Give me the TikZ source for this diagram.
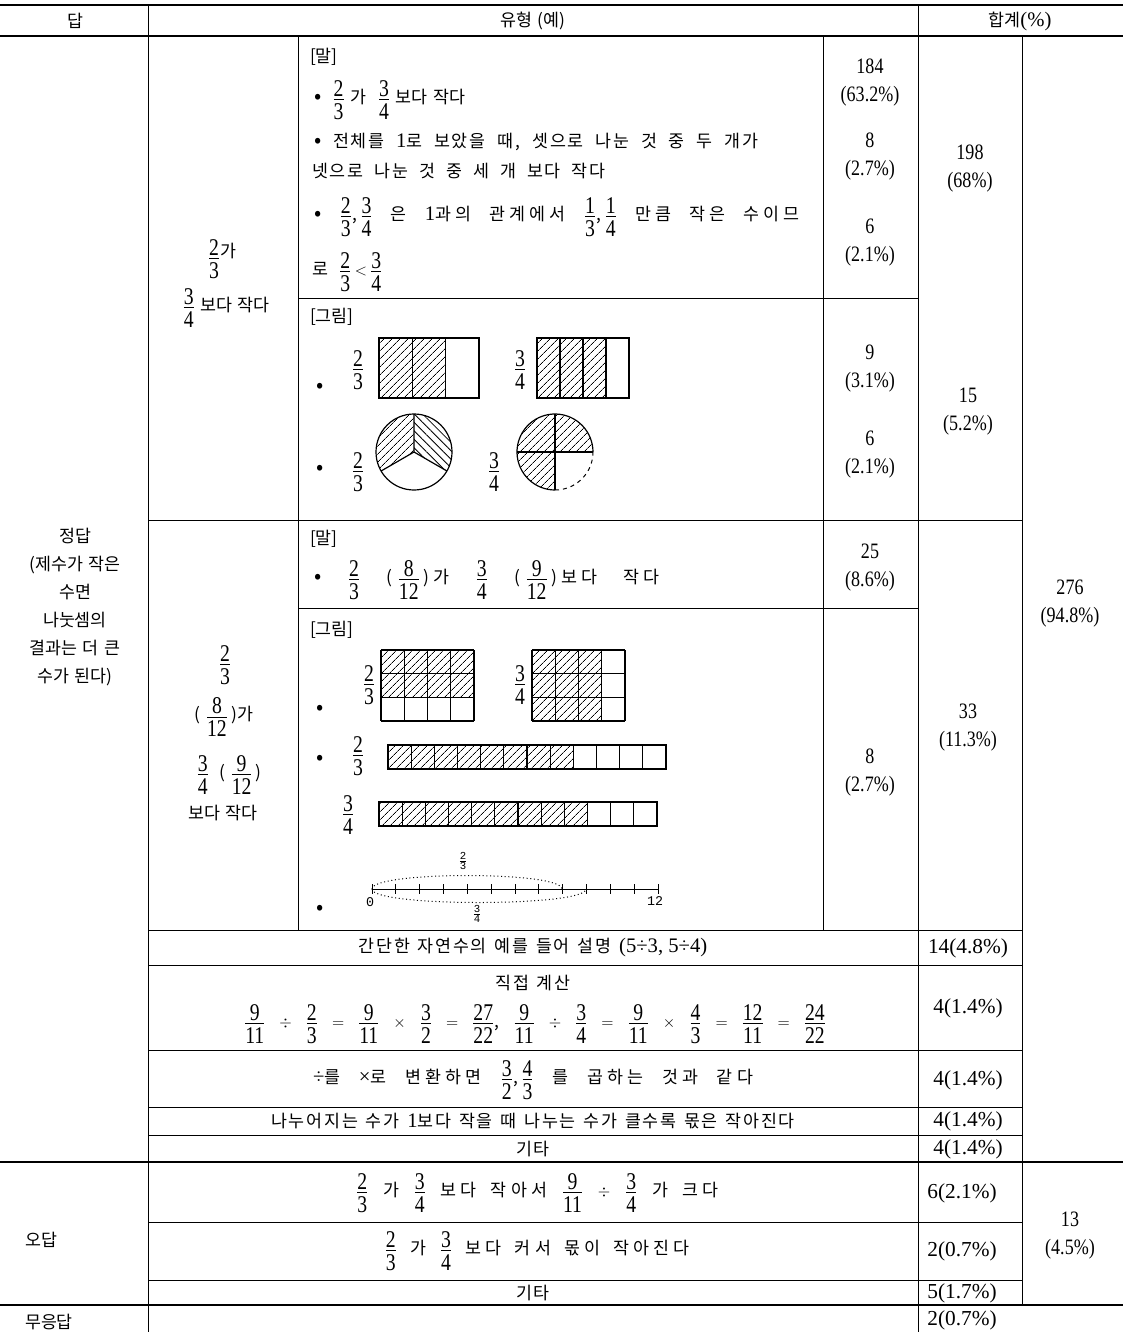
\documentclass[tikz,border=0pt]{standalone}
\usepackage{amsmath}
\usepackage{fontspec}
\setmainfont{Liberation Serif}
\newfontfamily\kr{Noto Sans CJK KR}[WordSpace=1.4]
\newfontfamily\krl{Noto Sans CJK KR}[LetterSpace=10,WordSpace=1.4]
\newfontfamily\krx{Noto Sans CJK KR}[LetterSpace=24,WordSpace=1.4]
\newfontfamily\numf{Liberation Serif}[FakeStretch=0.82]
\newfontfamily\numw{Liberation Serif}
\newfontfamily\monof{Liberation Mono}
\usetikzlibrary{patterns.meta}
\newcommand\Fr[2]{\ensuremath{\genfrac{}{}{0.6pt}{1}{\hbox{\numf\fontsize{18}{18}\selectfont\rule[-1.5pt]{0pt}{1pt}#1}}{\hbox{\numf\fontsize{18}{18}\selectfont\rule{0pt}{13.6pt}#2}}}}
\newcommand\Frs[2]{\ensuremath{\genfrac{}{}{0.4pt}{1}{\hbox{\monof\fontsize{8}{8}\selectfont #1}}{\hbox{\monof\fontsize{8}{8}\selectfont #2}}}}
\newcommand\bul{{\fontsize{16}{16}\selectfont •}}
\newcommand\nm[1]{{\numw\fontsize{15.5}{15.5}\selectfont #1}}
\begin{document}
\begin{tikzpicture}[x=0.75pt,y=-0.75pt,
  heavy/.style={line width=1.3pt},
  lin/.style={line width=0.75pt},
  box/.style={line width=0.9pt},
  txt/.style={inner sep=0pt, outer sep=0pt, font=\kr\fontsize{13}{16}\selectfont},
  low/.style={inner sep=0pt, outer sep=0pt, font=\krl\fontsize{13}{16}\selectfont},
  wide/.style={inner sep=0pt, outer sep=0pt, font=\krx\fontsize{13}{16}\selectfont},
  cnt/.style={inner sep=0pt, align=center, font=\numf\fontsize{16.5}{21}\selectfont},
  cntw/.style={inner sep=0pt, align=center, font=\numw\fontsize{16}{21}\selectfont},
  small/.style={inner sep=0pt, font=\monof\fontsize{10}{11}\selectfont},
  hatch/.style={pattern={Lines[angle=45,distance=4pt,line width=0.5pt]}},
  hatchb/.style={pattern={Lines[angle=-45,distance=4.5pt,line width=0.6pt]}}
]
\useasboundingbox (0,0) rectangle (1123,1332);

% ---------- table rules ----------
\draw[heavy] (0,5) -- (1123,5);
\draw[heavy] (0,36) -- (1123,36);
\draw[heavy] (0,1162) -- (1123,1162);
\draw[heavy] (0,1305) -- (1123,1305);
\draw[lin] (298,298) -- (918,298);
\draw[lin] (298,608) -- (918,608);
\draw[lin] (148,520) -- (1022,520);
\foreach \yy in {930,965,1050,1107,1135,1222,1280}
  \draw[lin] (148,\yy) -- (1022,\yy);
\draw[lin] (148,5) -- (148,1332);
\draw[lin] (918,5) -- (918,1332);
\draw[lin] (298,36) -- (298,930);
\draw[lin] (823,36) -- (823,930);
\draw[lin] (1022,36) -- (1022,1305);

% ---------- header ----------
\node[txt] (h1) at (75,21) {답};
\node[txt] (h2) at (533,21) {유형 (예)};
\node[txt] (h3) at (1020,21) {합계\nm{(\%)}};

% ---------- left column ----------
\node[txt, align=center, font=\kr\fontsize{13}{21}\selectfont] (ans1) at (75,607)
  {정답\\(제수가 작은\\수면\\나눗셈의\\결과는 더 큰\\수가 된다)};
\node[txt] (ans2) at (41,1240) {오답};
\node[txt] (ans3) at (49,1322) {무응답};

% ---------- sub categories ----------
\node[txt] (k1a) at (222,259) {\Fr23\raisebox{4pt}{가}};
\node[txt] (k1b) at (226,308) {\Fr34 보다 작다};
\node[txt] (k2a) at (225,665) {\Fr23};
\node[txt] (k2b) at (224,717) {(\;\Fr8{12}\,)가};
\node[txt] (k2c) at (229,775) {\Fr34 \;(\;\Fr9{12}\,)};
\node[txt] (k2d) at (223,813) {보다 작다};

% ---------- row 1 : words ----------
\node[txt, anchor=west] (t1) at (310,57) {[말]};
\node[txt, anchor=west] (t2) at (314,100) {\bul\ \ \Fr23 가 \ \Fr34 보다 작다};
\node[low, anchor=west] (t3) at (314,142) {\makebox[333pt][s]{\bul\ 전체를 \nm{1}로 보았을 때, 셋으로 나눈 것 중 두 개가}};
\node[low, anchor=west] (t4) at (312,171) {\makebox[220pt][s]{넷으로 나눈 것 중 세 개 보다 작다}};
\node[wide, anchor=west] (t5) at (314,217) {\makebox[364pt][s]{\bul\ \Fr23,\,\Fr34 은 \nm{1}과의 관계에서 \Fr13,\,\Fr14 만큼 작은 수이므}};
\node[txt, anchor=west] (t6) at (312,272) {로 \ \Fr23\,$<$\,\Fr34};

% ---------- row 2 : pictures ----------
\node[txt, anchor=west] (g1) at (310,317) {[그림]};
\node[txt] (b1) at (320,388) {\bul};
\node[txt] (f1) at (358,370) {\Fr23};
\node[txt] (f2) at (520,370) {\Fr34};
\fill[hatch] (379,338) rectangle (445.7,398);
\draw[box] (379,338) rectangle (479,398);
\draw[box] (412.3,338) -- (412.3,398) (445.7,338) -- (445.7,398);
\fill[hatch] (537,338) rectangle (606,398);
\draw[box] (537,338) rectangle (629,398);
\draw[box] (560,338) -- (560,398) (583,338) -- (583,398) (606,338) -- (606,398);

\node[txt] (b2) at (320,470) {\bul};
\node[txt] (f3) at (358,472) {\Fr23};
\node[txt] (f4) at (494,472) {\Fr34};
\fill[hatch] (414,452) -- plot[domain=90:210,samples=30] ({414+38*cos(\x)},{452-38*sin(\x)}) -- cycle;
\fill[hatchb] (414,452) -- plot[domain=-30:90,samples=30] ({414+38*cos(\x)},{452-38*sin(\x)}) -- cycle;
\draw[box] (414,452) circle[radius=38];
\draw[box] (414,414) -- (414,452) -- ({414+38*cos(210)},{452-38*sin(210)});
\draw[box] (414,452) -- ({414+38*cos(330)},{452-38*sin(330)});
\fill[hatch] (555,452) -- plot[domain=0:270,samples=40] ({555+38*cos(\x)},{452-38*sin(\x)}) -- cycle;
\draw[box] plot[domain=0:270,samples=50] ({555+38*cos(\x)},{452-38*sin(\x)});
\draw[lin, dashed] plot[domain=270:360,samples=20] ({555+38*cos(\x)},{452-38*sin(\x)});
\draw[box] (517,452) -- (593,452) (555,414) -- (555,490);

% ---------- counts, upper part ----------
\node[cnt] (c1a) at (870,83) {184\\(63.2\%)};
\node[cnt] (c1b) at (870,157) {8\\(2.7\%)};
\node[cnt] (c1c) at (870,243) {6\\(2.1\%)};
\node[cnt] (s1) at (970,169) {198\\(68\%)};
\node[cnt] (c2a) at (870,369) {9\\(3.1\%)};
\node[cnt] (c2b) at (870,455) {6\\(2.1\%)};
\node[cnt] (s2) at (968,412) {15\\(5.2\%)};
\node[cnt] (c3) at (870,568) {25\\(8.6\%)};
\node[cnt] (c4) at (870,773) {8\\(2.7\%)};
\node[cnt] (s3) at (968,728) {33\\(11.3\%)};
\node[cnt] (tot) at (1070,604) {276\\(94.8\%)};

% ---------- row 3 : words ----------
\node[txt, anchor=west] (t7) at (310,539) {[말]};
\node[wide, anchor=west] (t8) at (314,580) {\makebox[259pt][s]{\bul\ \Fr23 (\;\Fr8{12}\,)가 \Fr34 (\;\Fr9{12}\,)보다 작다}};

% ---------- row 4 : pictures ----------
\node[txt, anchor=west] (g2) at (310,630) {[그림]};
\fill[hatch] (381,650) rectangle (474,697.33);
\foreach \i in {0,...,4} \draw[box] ({381+23.25*\i},650) -- ({381+23.25*\i},721);
\foreach \j in {0,...,3} \draw[box] (381,{650+23.667*\j}) -- (474,{650+23.667*\j});
\fill[hatch] (532,650) rectangle (601.75,721);
\foreach \i in {0,...,4} \draw[box] ({532+23.25*\i},650) -- ({532+23.25*\i},721);
\foreach \j in {0,...,3} \draw[box] (532,{650+23.667*\j}) -- (625,{650+23.667*\j});
\node[txt] (f5) at (369,685) {\Fr23};
\node[txt] (f6) at (520,685) {\Fr34};
\node[txt] (b3) at (320,710) {\bul};

\node[txt] (b4) at (320,760) {\bul};
\node[txt] (f7) at (358,756) {\Fr23};
\fill[hatch] (388,745) rectangle (573.3,769);
\draw[box] (388,745) rectangle (666,769);
\foreach \i in {1,...,11} \draw[box] ({388+23.167*\i},745) -- ({388+23.167*\i},769);
\node[txt] (f8) at (348,815) {\Fr34};
\fill[hatch] (379,802) rectangle (587.5,826);
\draw[box] (379,802) rectangle (657,826);
\foreach \i in {1,...,11} \draw[box] ({379+23.167*\i},802) -- ({379+23.167*\i},826);

\draw[lin] (372,889) -- (658,889);
\foreach \i in {0,...,12} \draw[lin] ({372+23.833*\i},884) -- ({372+23.833*\i},894);
\draw[lin, dotted] (372,889) .. controls (372,871) and (562,871) .. (562,889);
\draw[lin, dotted] (372,889) .. controls (372,907) and (586,907) .. (586,889);
\node[small] (nl0) at (370,902) {0};
\node[small] (nl12) at (655,901) {12};
\node[small] (nf1) at (463,861) {\Frs23};
\node[small] (nf2) at (477,914) {\Frs34};
\node[txt] (b5) at (320,910) {\bul};

% ---------- lower rows ----------
\node[low] (r1) at (533,948) {간단한 자연수의 예를 들어 설명 \nm{(5÷3, 5÷4)}};
\node[low] (r2a) at (533,983) {직접 계산};
\node[txt] (r2b) at (535,1024) {\makebox[437pt]{\Fr9{11}\hfill$\div$\hfill\Fr23\hfill$=$\hfill\Fr9{11}\hfill$\times$\hfill\Fr32\hfill$=$\hfill\Fr{27}{22},\hfill\Fr9{11}\hfill$\div$\hfill\Fr34\hfill$=$\hfill\Fr9{11}\hfill$\times$\hfill\Fr43\hfill$=$\hfill\Fr{12}{11}\hfill$=$\hfill\Fr{24}{22}}};
\node[wide] (r3) at (533,1080) {\makebox[330pt][s]{\nm{÷}를 \nm{×}로 변환하면 \Fr32,\,\Fr43 를 곱하는 것과 같다}};
\node[low] (r4) at (533,1121) {나누어지는 수가 \nm{1}보다 작을 때 나누는 수가 클수록 몫은 작아진다};
\node[low] (r5) at (533,1149) {기타};

\node[cntw] (c5) at (968,948) {14(4.8\%)};
\node[cntw] (c6) at (968,1008) {4(1.4\%)};
\node[cntw] (c7) at (968,1080) {4(1.4\%)};
\node[cntw] (c8) at (968,1121) {4(1.4\%)};
\node[cntw] (c9) at (968,1149) {4(1.4\%)};

% ---------- wrong answers ----------
\node[wide] (w1) at (537,1193) {\makebox[272pt][s]{\Fr23 가 \Fr34 보다 작아서 \Fr9{11} $\div$ \Fr34 가 크다}};
\node[wide] (w2) at (537,1251) {\makebox[229pt][s]{\Fr23 가 \Fr34 보다 커서 몫이 작아진다}};
\node[low] (w3) at (533,1293) {기타};
\node[cntw] (c10) at (962,1193) {6(2.1\%)};
\node[cntw] (c11) at (962,1251) {2(0.7\%)};
\node[cntw] (c12) at (962,1293) {5(1.7\%)};
\node[cntw] (c13) at (962,1320) {2(0.7\%)};
\node[cnt] (wt) at (1070,1236) {13\\(4.5\%)};
\end{tikzpicture}
\end{document}
